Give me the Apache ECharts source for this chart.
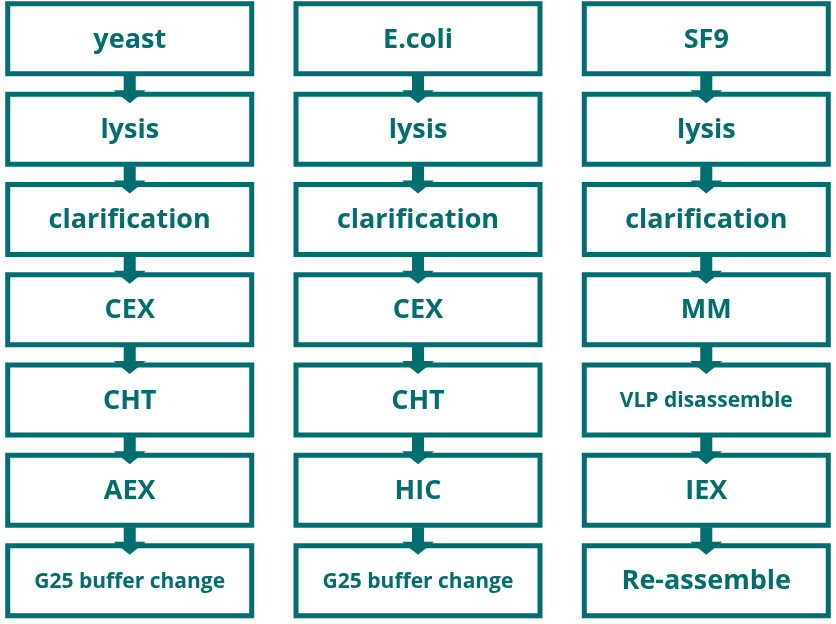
<!DOCTYPE html>
<html><head><meta charset="utf-8">
<script src="https://cdn.jsdelivr.net/npm/echarts@6/dist/echarts.min.js"></script>
<style>html,body{margin:0;padding:0;background:#fff}#c{width:836px;height:624px}</style>
</head><body><div id="c"></div>
<script>
const columns = ['yeast', 'E.coli', 'SF9'];
const yeastSteps = ['yeast','lysis','clarification','CEX','CHT','AEX','G25 buffer change'];
const ecoliSteps = ['E.coli','lysis','clarification','CEX','CHT','HIC','G25 buffer change'];
const sf9Steps = ['SF9','lysis','clarification','MM','VLP disassemble','IEX','Re-assemble'];
const allSteps = [yeastSteps, ecoliSteps, sf9Steps];
const data = [];
allSteps.forEach((steps, c) => steps.forEach((s, r) => data.push([c, r, s])));
const C = '#006E6E';
const chart = echarts.init(document.getElementById('c'));
chart.setOption({
  animation: false,
  grid: {left: 0, right: 0, top: 0, bottom: 0},
  xAxis: {type: 'value', min: -0.45, max: 2.45, show: false},
  yAxis: {type: 'value', min: -0.43, max: 6.48, inverse: true, show: false},
  series: [{
    type: 'custom',
    data: data,
    renderItem: function (params, api) {
      const p = api.coord([api.value(0), api.value(1)]);
      const label = data[params.dataIndex][2];
      const w = 244, h = 70;
      const x0 = p[0] - w / 2, y0 = p[1] - h / 2;
      const children = [{
        type: 'rect', shape: {x: x0, y: y0, width: w, height: h},
        style: {fill: '#fff', stroke: C, lineWidth: 5}
      }, {
        type: 'text', x: p[0], y: p[1] + 1,
        style: {text: label, fill: C, align: 'center', verticalAlign: 'middle',
          font: (label.length > 13 ? '700 21px' : '700 27px') + ' "Open Sans"'}
      }];
      if (api.value(1) > 0) {
        const prev = api.coord([api.value(0), api.value(1) - 1]);
        const top = prev[1] + h / 2 + 2, tip = y0 + 9, hb = tip - 13;
        children.push({
          type: 'polygon',
          shape: {points: [[p[0]-6, top], [p[0]+6, top], [p[0]+6, hb], [p[0]+16, hb],
            [p[0], tip], [p[0]-16, hb], [p[0]-6, hb]]},
          style: {fill: C}
        });
      }
      return {type: 'group', children: children};
    }
  }]
});
</script></body></html>
